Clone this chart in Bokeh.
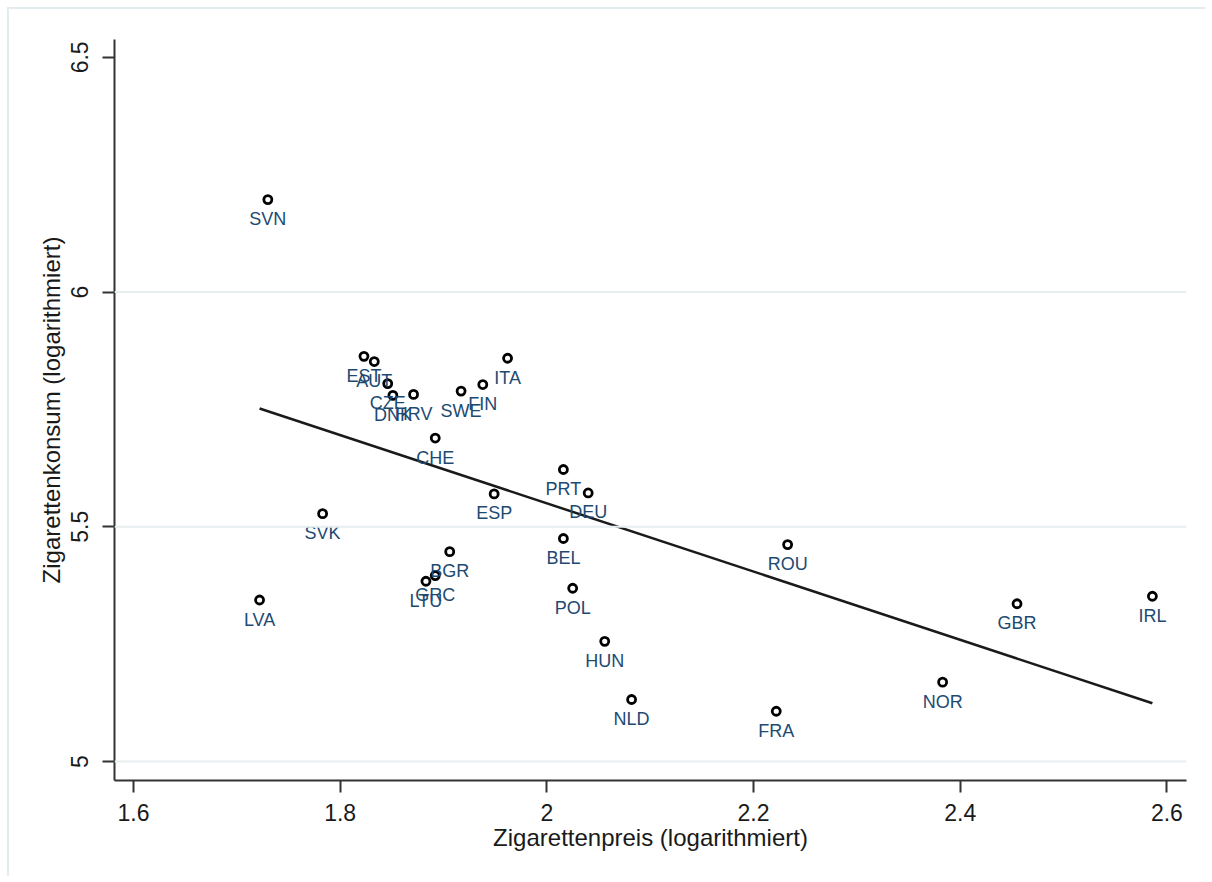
from bokeh.plotting import figure
from bokeh.models import ColumnDataSource, FixedTicker, Range1d, Span
from bokeh.embed import file_html
from bokeh.resources import INLINE
from bokeh.core.properties import value

# ---- data ----
countries = ["SVN", "EST", "AUT", "CZE", "DNK", "HRV", "SWE", "FIN", "ITA", "CHE",
             "PRT", "DEU", "BEL", "ESP", "SVK", "LVA", "BGR", "GRC", "LTU", "POL",
             "HUN", "NLD", "FRA", "ROU", "NOR", "GBR", "IRL"]
price = [1.730, 1.823, 1.833, 1.846, 1.851, 1.871, 1.917, 1.938, 1.962, 1.892,
         2.016, 2.040, 2.016, 1.949, 1.783, 1.722, 1.906, 1.892, 1.883, 2.025,
         2.056, 2.082, 2.222, 2.233, 2.383, 2.455, 2.586]
consumption = [6.197, 5.863, 5.852, 5.805, 5.780, 5.782, 5.789, 5.803, 5.859, 5.689,
               5.622, 5.572, 5.475, 5.570, 5.528, 5.344, 5.447, 5.396, 5.384, 5.369,
               5.256, 5.132, 5.107, 5.462, 5.169, 5.336, 5.352]
fit_x = [1.722, 2.586]
fit_y = [5.752, 5.124]

xtick_vals = [1.6, 1.8, 2.0, 2.2, 2.4, 2.6]
xtick_labels = ["1.6", "1.8", "2", "2.2", "2.4", "2.6"]
ytick_vals = [5.0, 5.5, 6.0, 6.5]
ytick_labels = ["5", "5.5", "6", "6.5"]
ygrid_vals = [5.0, 5.5, 6.0]

x_title = "Zigarettenpreis (logarithmiert)"
y_title = "Zigarettenkonsum (logarithmiert)"

FONT = "Liberation Sans"

p = figure(width=1205, height=876, output_backend="svg", toolbar_location=None,
           x_range=Range1d(1.5816, 2.619), y_range=Range1d(4.9595, 6.538),
           min_border_left=114, min_border_right=19, min_border_top=39, min_border_bottom=96)

p.outline_line_color = None
p.background_fill_color = "white"
p.border_fill_color = None
# light outer region border (left/top visible in reference)
p.styles = {"background-color": "white",
            "box-shadow": "inset 7px 7px 0 0 white, inset 9px 9px 0 0 #e3ecee"}
p.xgrid.visible = False
p.ygrid.visible = False

for gv in ygrid_vals:
    p.add_layout(Span(location=gv, dimension="width", line_color="#e6eef0", line_width=2))

# fit line
p.line(fit_x, fit_y, line_color="#1a1a1a", line_width=2.5)

src = ColumnDataSource(dict(x=price, y=consumption, c=countries))
p.scatter("x", "y", source=src, size=8, fill_color="white", line_color="black", line_width=2.8)
p.text("x", "y", text="c", source=src, text_align="center", text_baseline="middle",
       y_offset=19.5, text_font=value(FONT), text_font_size="18px", text_color="#1d4a72")

# axes
for ax in (p.xaxis[0], p.yaxis[0]):
    ax.axis_line_color = "#333333"
    ax.axis_line_width = 2
    ax.major_tick_line_color = "#333333"
    ax.major_tick_line_width = 2
    ax.major_tick_out = 12
    ax.major_tick_in = 0
    ax.minor_tick_out = 0
    ax.minor_tick_in = 0
    ax.major_label_text_font = FONT
    ax.major_label_text_font_size = "23px"
    ax.major_label_text_color = "#1a1a1a"
    ax.axis_label_text_font = FONT
    ax.axis_label_text_font_size = "24px"
    ax.axis_label_text_font_style = "normal"
    ax.axis_label_text_color = "#1a1a1a"

p.xaxis.ticker = FixedTicker(ticks=xtick_vals)
p.xaxis.major_label_overrides = {v: l for v, l in zip(xtick_vals, xtick_labels)}
p.xaxis.axis_label = x_title
p.xaxis.major_label_standoff = 11
p.xaxis.axis_label_standoff = 0

p.yaxis.ticker = FixedTicker(ticks=ytick_vals)
p.yaxis.major_label_overrides = {v: l for v, l in zip(ytick_vals, ytick_labels)}
p.yaxis.axis_label = y_title
p.yaxis.major_label_orientation = "vertical"
p.yaxis.major_label_standoff = 14
p.yaxis.axis_label_standoff = 4

open("out.html", "w").write(file_html(p, INLINE))
